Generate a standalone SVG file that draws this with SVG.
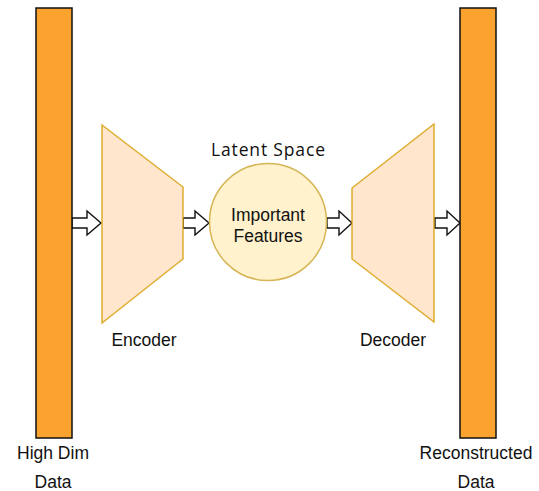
<svg xmlns="http://www.w3.org/2000/svg" width="539" height="491" viewBox="0 0 539 491">
  <style>
    .bar { fill: #FBA22F; stroke: #111111; stroke-width: 1.5; }
    .trap { fill: #FFE6CC; stroke: #D79B00; stroke-width: 1.5; stroke-opacity: 0.8; }
    .latent { fill: #FFF2CC; stroke: #D6B656; stroke-width: 1.5; }
    .arrow { fill: #FFFFFF; stroke: #111111; stroke-width: 1.4; stroke-linejoin: miter; }
    .lbl { font-family: "Liberation Sans", Arial, Helvetica, sans-serif; font-size: 17.5px; fill: #111111; text-anchor: middle; }
    .title { font-family: "Open Sans", "Liberation Sans", sans-serif; font-size: 17.5px; fill: #111111; text-anchor: middle; }
  </style>
  <rect width="539" height="491" fill="#FFFFFF"/>

  <!-- connectors: hollow block arrows -->
  <g id="connectors">
    <path class="arrow" d="M72,218 H87 V211 L101,223 L87,235 V228 H72 Z"/>
    <path class="arrow" d="M183,218 H195 V211 L209,223 L195,235 V228 H183 Z"/>
    <path class="arrow" d="M327,218 H339 V211 L352,223 L339,235 V228 H327 Z"/>
    <path class="arrow" d="M435,218 H447 V211 L460,223 L447,235 V228 H435 Z"/>
  </g>

  <g id="input-data">
    <rect class="bar" x="36" y="8" width="36" height="430"/>
    <text class="lbl" x="53" y="459">High Dim</text>
    <text class="lbl" x="53" y="488">Data</text>
  </g>

  <g id="encoder">
    <polygon class="trap" points="102,125 183,187 183,259 102,323"/>
    <text class="lbl" x="144" y="346">Encoder</text>
  </g>

  <g id="latent-space">
    <text class="title" x="268" y="156" textLength="114" lengthAdjust="spacing">Latent Space</text>
    <circle class="latent" cx="268" cy="222" r="58.5"/>
    <text class="lbl" x="268" y="221">Important</text>
    <text class="lbl" x="268" y="242">Features</text>
  </g>

  <g id="decoder">
    <polygon class="trap" points="352,188 434,124 434,322 352,259"/>
    <text class="lbl" x="393" y="346">Decoder</text>
  </g>

  <g id="reconstructed-data">
    <rect class="bar" x="460" y="8" width="36" height="430"/>
    <text class="lbl" x="476" y="459">Reconstructed</text>
    <text class="lbl" x="476" y="488">Data</text>
  </g>
</svg>
